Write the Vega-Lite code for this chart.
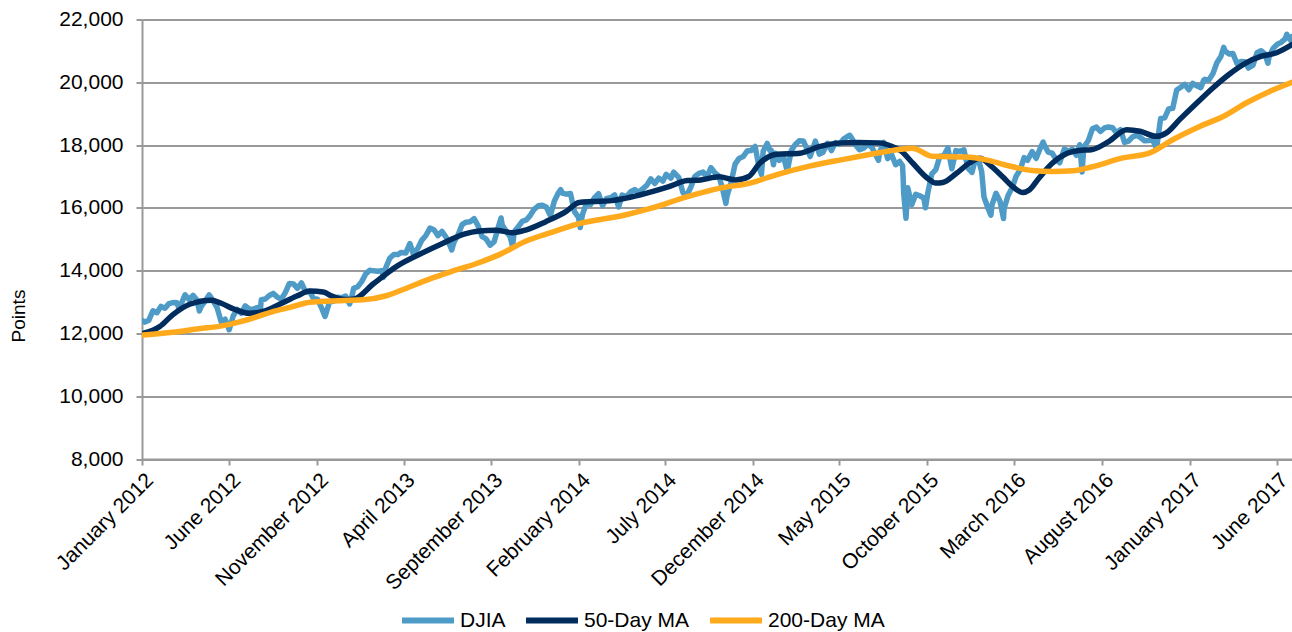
{
  "$schema": "https://vega.github.io/schema/vega-lite/v6.json",
  "width": 1150,
  "height": 439.5,
  "autosize": {"type": "none"},
  "padding": {"left": 142, "top": 19.5, "right": 0, "bottom": 173},
  "background": "white",
  "config": {"font": "Liberation Sans", "view": {"stroke": null}},
  "datasets": {
    "djia": [
      {"date":"2012-01-03","v":12397},{"date":"2012-01-06","v":12360},{"date":"2012-01-13","v":12422},{"date":"2012-01-20","v":12720},{"date":"2012-01-27","v":12660},
      {"date":"2012-02-03","v":12862},{"date":"2012-02-10","v":12801},{"date":"2012-02-17","v":12950},{"date":"2012-02-24","v":12983},{"date":"2012-03-02","v":12977},
      {"date":"2012-03-06","v":12759},{"date":"2012-03-09","v":12922},{"date":"2012-03-16","v":13232},{"date":"2012-03-23","v":13080},{"date":"2012-03-30","v":13212},
      {"date":"2012-04-06","v":13060},{"date":"2012-04-10","v":12716},{"date":"2012-04-13","v":12850},{"date":"2012-04-20","v":13029},{"date":"2012-04-27","v":13228},
      {"date":"2012-05-04","v":13038},{"date":"2012-05-11","v":12820},{"date":"2012-05-18","v":12369},{"date":"2012-05-25","v":12454},{"date":"2012-06-01","v":12119},
      {"date":"2012-06-08","v":12554},{"date":"2012-06-15","v":12767},{"date":"2012-06-22","v":12640},{"date":"2012-06-29","v":12880},{"date":"2012-07-06","v":12772},
      {"date":"2012-07-13","v":12777},{"date":"2012-07-20","v":12822},{"date":"2012-07-25","v":12676},{"date":"2012-07-27","v":13075},{"date":"2012-08-03","v":13096},
      {"date":"2012-08-10","v":13207},{"date":"2012-08-17","v":13275},{"date":"2012-08-24","v":13157},{"date":"2012-08-31","v":13090},{"date":"2012-09-07","v":13306},
      {"date":"2012-09-14","v":13593},{"date":"2012-09-21","v":13579},{"date":"2012-09-28","v":13437},{"date":"2012-10-05","v":13610},{"date":"2012-10-12","v":13328},
      {"date":"2012-10-19","v":13343},{"date":"2012-10-26","v":13107},{"date":"2012-11-02","v":13093},{"date":"2012-11-09","v":12815},{"date":"2012-11-15","v":12543},
      {"date":"2012-11-16","v":12588},{"date":"2012-11-23","v":13010},{"date":"2012-11-30","v":13025},{"date":"2012-12-07","v":13155},{"date":"2012-12-14","v":13135},
      {"date":"2012-12-21","v":13190},{"date":"2012-12-28","v":12938},{"date":"2012-12-31","v":13104},
      {"date":"2013-01-04","v":13435},{"date":"2013-01-11","v":13488},{"date":"2013-01-18","v":13650},{"date":"2013-01-25","v":13896},{"date":"2013-02-01","v":14010},
      {"date":"2013-02-08","v":13993},{"date":"2013-02-15","v":13982},{"date":"2013-02-22","v":14001},{"date":"2013-02-25","v":13784},{"date":"2013-03-01","v":14090},
      {"date":"2013-03-08","v":14397},{"date":"2013-03-15","v":14515},{"date":"2013-03-22","v":14512},{"date":"2013-03-28","v":14579},{"date":"2013-04-05","v":14565},
      {"date":"2013-04-12","v":14865},{"date":"2013-04-18","v":14537},{"date":"2013-04-26","v":14712},{"date":"2013-05-03","v":14974},{"date":"2013-05-10","v":15118},
      {"date":"2013-05-17","v":15354},{"date":"2013-05-24","v":15303},{"date":"2013-05-31","v":15116},{"date":"2013-06-07","v":15248},{"date":"2013-06-14","v":15070},
      {"date":"2013-06-21","v":14800},{"date":"2013-06-24","v":14660},{"date":"2013-06-28","v":14910},{"date":"2013-07-05","v":15135},{"date":"2013-07-12","v":15464},
      {"date":"2013-07-19","v":15544},{"date":"2013-07-26","v":15559},{"date":"2013-08-02","v":15658},{"date":"2013-08-09","v":15425},{"date":"2013-08-16","v":15081},
      {"date":"2013-08-23","v":15010},{"date":"2013-08-30","v":14810},{"date":"2013-09-06","v":14922},{"date":"2013-09-13","v":15376},{"date":"2013-09-18","v":15677},
      {"date":"2013-09-20","v":15452},{"date":"2013-09-27","v":15258},{"date":"2013-10-04","v":15073},{"date":"2013-10-08","v":14776},{"date":"2013-10-11","v":15237},
      {"date":"2013-10-18","v":15400},{"date":"2013-10-25","v":15570},{"date":"2013-11-01","v":15615},{"date":"2013-11-08","v":15762},{"date":"2013-11-15","v":15962},
      {"date":"2013-11-22","v":16065},{"date":"2013-11-29","v":16086},{"date":"2013-12-06","v":16020},{"date":"2013-12-13","v":15755},{"date":"2013-12-20","v":16221},
      {"date":"2013-12-27","v":16479},{"date":"2013-12-31","v":16577},
      {"date":"2014-01-03","v":16469},{"date":"2014-01-10","v":16437},{"date":"2014-01-17","v":16458},{"date":"2014-01-24","v":15880},{"date":"2014-01-31","v":15699},
      {"date":"2014-02-03","v":15373},{"date":"2014-02-07","v":15794},{"date":"2014-02-14","v":16154},{"date":"2014-02-21","v":16104},{"date":"2014-02-28","v":16322},
      {"date":"2014-03-07","v":16453},{"date":"2014-03-14","v":16066},{"date":"2014-03-21","v":16303},{"date":"2014-03-28","v":16323},{"date":"2014-04-04","v":16413},
      {"date":"2014-04-11","v":16027},{"date":"2014-04-17","v":16409},{"date":"2014-04-25","v":16361},{"date":"2014-05-02","v":16513},{"date":"2014-05-09","v":16583},
      {"date":"2014-05-16","v":16492},{"date":"2014-05-23","v":16606},{"date":"2014-05-30","v":16717},{"date":"2014-06-06","v":16924},{"date":"2014-06-13","v":16776},
      {"date":"2014-06-20","v":16947},{"date":"2014-06-27","v":16851},{"date":"2014-07-03","v":17068},{"date":"2014-07-11","v":16944},{"date":"2014-07-16","v":17138},
      {"date":"2014-07-18","v":17100},{"date":"2014-07-25","v":16961},{"date":"2014-08-01","v":16493},{"date":"2014-08-07","v":16368},{"date":"2014-08-15","v":16663},
      {"date":"2014-08-22","v":17001},{"date":"2014-08-29","v":17098},{"date":"2014-09-05","v":17138},{"date":"2014-09-12","v":16988},{"date":"2014-09-19","v":17280},
      {"date":"2014-09-26","v":17113},{"date":"2014-10-03","v":17009},{"date":"2014-10-10","v":16544},{"date":"2014-10-15","v":16142},{"date":"2014-10-17","v":16380},
      {"date":"2014-10-24","v":16805},{"date":"2014-10-31","v":17391},{"date":"2014-11-07","v":17574},{"date":"2014-11-14","v":17634},{"date":"2014-11-21","v":17810},
      {"date":"2014-11-28","v":17828},{"date":"2014-12-05","v":17958},{"date":"2014-12-12","v":17280},{"date":"2014-12-16","v":17068},{"date":"2014-12-19","v":17805},
      {"date":"2014-12-26","v":18053},{"date":"2014-12-31","v":17823},
      {"date":"2015-01-02","v":17833},{"date":"2015-01-06","v":17371},{"date":"2015-01-09","v":17737},{"date":"2015-01-16","v":17511},{"date":"2015-01-23","v":17672},
      {"date":"2015-01-30","v":17165},{"date":"2015-02-06","v":17825},{"date":"2015-02-13","v":18019},{"date":"2015-02-20","v":18140},{"date":"2015-02-27","v":18133},
      {"date":"2015-03-06","v":17856},{"date":"2015-03-11","v":17635},{"date":"2015-03-13","v":17749},{"date":"2015-03-20","v":18128},{"date":"2015-03-27","v":17713},
      {"date":"2015-04-02","v":17763},{"date":"2015-04-10","v":18058},{"date":"2015-04-17","v":17827},{"date":"2015-04-24","v":18080},{"date":"2015-05-01","v":18024},
      {"date":"2015-05-08","v":18191},{"date":"2015-05-15","v":18273},{"date":"2015-05-19","v":18312},{"date":"2015-05-22","v":18232},{"date":"2015-05-29","v":18011},
      {"date":"2015-06-05","v":17849},{"date":"2015-06-12","v":17899},{"date":"2015-06-19","v":18016},{"date":"2015-06-26","v":17947},{"date":"2015-07-02","v":17730},
      {"date":"2015-07-08","v":17515},{"date":"2015-07-10","v":17760},{"date":"2015-07-17","v":18086},{"date":"2015-07-24","v":17569},{"date":"2015-07-31","v":17690},
      {"date":"2015-08-07","v":17373},{"date":"2015-08-14","v":17477},{"date":"2015-08-19","v":17348},{"date":"2015-08-20","v":16990},{"date":"2015-08-21","v":16460},
      {"date":"2015-08-24","v":15871},{"date":"2015-08-25","v":15666},{"date":"2015-08-28","v":16643},{"date":"2015-09-04","v":16102},{"date":"2015-09-11","v":16433},
      {"date":"2015-09-18","v":16385},{"date":"2015-09-25","v":16315},{"date":"2015-09-28","v":16001},{"date":"2015-10-02","v":16472},{"date":"2015-10-09","v":17084},
      {"date":"2015-10-16","v":17216},{"date":"2015-10-23","v":17646},{"date":"2015-10-30","v":17664},{"date":"2015-11-06","v":17910},{"date":"2015-11-13","v":17245},
      {"date":"2015-11-20","v":17824},{"date":"2015-11-27","v":17798},{"date":"2015-12-04","v":17848},{"date":"2015-12-11","v":17265},{"date":"2015-12-18","v":17128},
      {"date":"2015-12-24","v":17553},{"date":"2015-12-31","v":17425},
      {"date":"2016-01-04","v":17149},{"date":"2016-01-08","v":16346},{"date":"2016-01-15","v":15988},{"date":"2016-01-20","v":15766},{"date":"2016-01-22","v":16094},
      {"date":"2016-01-29","v":16466},{"date":"2016-02-05","v":16205},{"date":"2016-02-11","v":15660},{"date":"2016-02-12","v":15974},{"date":"2016-02-19","v":16392},
      {"date":"2016-02-26","v":16640},{"date":"2016-03-04","v":17007},{"date":"2016-03-11","v":17213},{"date":"2016-03-18","v":17602},{"date":"2016-03-24","v":17516},
      {"date":"2016-04-01","v":17793},{"date":"2016-04-08","v":17577},{"date":"2016-04-15","v":17898},{"date":"2016-04-20","v":18096},{"date":"2016-04-22","v":18004},
      {"date":"2016-04-29","v":17774},{"date":"2016-05-06","v":17740},{"date":"2016-05-13","v":17535},{"date":"2016-05-19","v":17436},{"date":"2016-05-20","v":17501},
      {"date":"2016-05-27","v":17873},{"date":"2016-06-03","v":17807},{"date":"2016-06-10","v":17865},{"date":"2016-06-17","v":17675},{"date":"2016-06-23","v":18011},
      {"date":"2016-06-27","v":17140},{"date":"2016-06-30","v":17930},{"date":"2016-07-08","v":18147},{"date":"2016-07-15","v":18516},{"date":"2016-07-22","v":18571},
      {"date":"2016-07-29","v":18432},{"date":"2016-08-05","v":18543},{"date":"2016-08-12","v":18577},{"date":"2016-08-19","v":18553},{"date":"2016-08-26","v":18395},
      {"date":"2016-09-02","v":18492},{"date":"2016-09-09","v":18085},{"date":"2016-09-16","v":18124},{"date":"2016-09-23","v":18261},{"date":"2016-09-30","v":18308},
      {"date":"2016-10-07","v":18240},{"date":"2016-10-14","v":18138},{"date":"2016-10-21","v":18146},{"date":"2016-10-28","v":18161},{"date":"2016-11-04","v":17888},
      {"date":"2016-11-09","v":18590},{"date":"2016-11-11","v":18848},{"date":"2016-11-18","v":18868},{"date":"2016-11-25","v":19152},{"date":"2016-12-02","v":19171},
      {"date":"2016-12-09","v":19757},{"date":"2016-12-16","v":19843},{"date":"2016-12-23","v":19934},{"date":"2016-12-30","v":19763},
      {"date":"2017-01-06","v":19964},{"date":"2017-01-13","v":19886},{"date":"2017-01-20","v":19827},{"date":"2017-01-25","v":20068},{"date":"2017-01-27","v":20093},
      {"date":"2017-02-03","v":20071},{"date":"2017-02-10","v":20269},{"date":"2017-02-17","v":20624},{"date":"2017-02-24","v":20822},{"date":"2017-03-01","v":21115},
      {"date":"2017-03-03","v":21005},{"date":"2017-03-10","v":20903},{"date":"2017-03-17","v":20915},{"date":"2017-03-24","v":20596},{"date":"2017-03-31","v":20663},
      {"date":"2017-04-07","v":20656},{"date":"2017-04-13","v":20453},{"date":"2017-04-21","v":20548},{"date":"2017-04-28","v":20941},{"date":"2017-05-05","v":21007},
      {"date":"2017-05-12","v":20897},{"date":"2017-05-17","v":20607},{"date":"2017-05-19","v":20805},{"date":"2017-05-26","v":21080},{"date":"2017-06-02","v":21206},
      {"date":"2017-06-09","v":21272},{"date":"2017-06-16","v":21384},{"date":"2017-06-19","v":21528},{"date":"2017-06-23","v":21395},{"date":"2017-06-27","v":21311},
      {"date":"2017-06-28","v":21454}
    ],
    "ma50": [
      {"date":"2012-01-03","v":12000},{"date":"2012-02-01","v":12220},{"date":"2012-02-24","v":12600},{"date":"2012-03-24","v":12930},{"date":"2012-05-01","v":13060},
      {"date":"2012-05-18","v":12960},{"date":"2012-06-10","v":12770},{"date":"2012-07-06","v":12640},{"date":"2012-07-30","v":12700},{"date":"2012-08-27","v":12920},
      {"date":"2012-09-27","v":13190},{"date":"2012-10-20","v":13350},{"date":"2012-11-12","v":13320},{"date":"2012-11-27","v":13190},{"date":"2012-12-20","v":13080},
      {"date":"2013-01-05","v":13100},{"date":"2013-02-08","v":13590},{"date":"2013-03-22","v":14160},{"date":"2013-05-01","v":14540},{"date":"2013-06-06","v":14850},
      {"date":"2013-07-17","v":15170},{"date":"2013-08-11","v":15260},{"date":"2013-09-08","v":15290},{"date":"2013-10-08","v":15210},{"date":"2013-11-01","v":15300},
      {"date":"2013-12-05","v":15560},{"date":"2014-01-09","v":15880},{"date":"2014-02-01","v":16170},{"date":"2014-02-24","v":16200},{"date":"2014-03-30","v":16230},
      {"date":"2014-04-24","v":16310},{"date":"2014-05-30","v":16470},{"date":"2014-07-05","v":16660},{"date":"2014-08-09","v":16870},{"date":"2014-09-01","v":16890},
      {"date":"2014-10-03","v":16990},{"date":"2014-11-01","v":16890},{"date":"2014-11-24","v":17000},{"date":"2014-12-13","v":17420},{"date":"2015-01-12","v":17710},
      {"date":"2015-02-21","v":17740},{"date":"2015-03-25","v":17940},{"date":"2015-05-04","v":18070},{"date":"2015-06-03","v":18085},{"date":"2015-07-09","v":18070},
      {"date":"2015-08-01","v":17955},{"date":"2015-08-16","v":17820},{"date":"2015-09-06","v":17420},{"date":"2015-10-01","v":16950},{"date":"2015-10-16","v":16790},
      {"date":"2015-10-28","v":16810},{"date":"2015-11-21","v":17100},{"date":"2015-12-13","v":17420},{"date":"2016-01-01","v":17580},{"date":"2016-01-18","v":17370},
      {"date":"2016-02-09","v":17000},{"date":"2016-02-27","v":16680},{"date":"2016-03-15","v":16490},{"date":"2016-03-27","v":16570},{"date":"2016-04-13","v":16950},
      {"date":"2016-05-06","v":17420},{"date":"2016-06-01","v":17740},{"date":"2016-06-22","v":17830},{"date":"2016-07-13","v":17850},{"date":"2016-08-13","v":18120},
      {"date":"2016-09-13","v":18490},{"date":"2016-10-06","v":18440},{"date":"2016-11-03","v":18280},{"date":"2016-11-21","v":18390},{"date":"2016-12-14","v":18810},
      {"date":"2017-01-13","v":19340},{"date":"2017-02-10","v":19820},{"date":"2017-03-10","v":20250},{"date":"2017-04-09","v":20620},{"date":"2017-05-06","v":20830},
      {"date":"2017-06-01","v":20940},{"date":"2017-06-28","v":21200}
    ],
    "ma200": [
      {"date":"2012-01-03","v":11950},{"date":"2012-02-24","v":12040},{"date":"2012-04-09","v":12150},{"date":"2012-05-19","v":12240},{"date":"2012-06-19","v":12370},
      {"date":"2012-07-19","v":12530},{"date":"2012-08-15","v":12690},{"date":"2012-09-15","v":12830},{"date":"2012-10-20","v":12990},{"date":"2012-11-27","v":13030},
      {"date":"2012-12-20","v":13050},{"date":"2013-01-20","v":13070},{"date":"2013-03-02","v":13200},{"date":"2013-04-06","v":13440},{"date":"2013-05-16","v":13730},
      {"date":"2013-06-24","v":13975},{"date":"2013-08-05","v":14220},{"date":"2013-09-15","v":14510},{"date":"2013-10-30","v":14930},{"date":"2013-12-15","v":15220},
      {"date":"2014-01-24","v":15460},{"date":"2014-04-24","v":15780},{"date":"2014-06-07","v":15990},{"date":"2014-08-09","v":16360},{"date":"2014-10-05","v":16630},
      {"date":"2014-11-26","v":16790},{"date":"2015-01-12","v":17060},{"date":"2015-03-08","v":17320},{"date":"2015-05-04","v":17530},{"date":"2015-06-20","v":17690},
      {"date":"2015-08-16","v":17870},{"date":"2015-09-05","v":17900},{"date":"2015-10-11","v":17640},{"date":"2015-12-08","v":17620},{"date":"2016-01-12","v":17530},
      {"date":"2016-02-20","v":17340},{"date":"2016-04-01","v":17190},{"date":"2016-05-06","v":17160},{"date":"2016-06-11","v":17180},{"date":"2016-07-13","v":17300},
      {"date":"2016-09-06","v":17590},{"date":"2016-10-23","v":17750},{"date":"2016-12-02","v":18170},{"date":"2017-01-19","v":18600},{"date":"2017-03-01","v":18920},
      {"date":"2017-04-09","v":19340},{"date":"2017-05-20","v":19710},{"date":"2017-06-28","v":20000}
    ]
  },
  "encoding": {
    "x": {
      "field": "date",
      "type": "temporal",
      "scale": {"type": "utc", "domain": [{"year": 2012, "month": 1, "date": 1, "utc": true}, {"year": 2017, "month": 6, "date": 28, "utc": true}]},
      "axis": {
        "title": null,
        "grid": false,
        "values": [
          {"year": 2012, "month": 1, "date": 1, "utc": true},
          {"year": 2012, "month": 6, "date": 1, "utc": true},
          {"year": 2012, "month": 11, "date": 1, "utc": true},
          {"year": 2013, "month": 4, "date": 1, "utc": true},
          {"year": 2013, "month": 9, "date": 1, "utc": true},
          {"year": 2014, "month": 2, "date": 1, "utc": true},
          {"year": 2014, "month": 7, "date": 1, "utc": true},
          {"year": 2014, "month": 12, "date": 1, "utc": true},
          {"year": 2015, "month": 5, "date": 1, "utc": true},
          {"year": 2015, "month": 10, "date": 1, "utc": true},
          {"year": 2016, "month": 3, "date": 1, "utc": true},
          {"year": 2016, "month": 8, "date": 1, "utc": true},
          {"year": 2017, "month": 1, "date": 1, "utc": true},
          {"year": 2017, "month": 6, "date": 1, "utc": true}
        ],
        "labelExpr": "utcFormat(datum.value, '%B %Y')",
        "labelAngle": -45,
        "labelAlign": "right",
        "labelBaseline": "top",
        "labelFontSize": 21,
        "labelColor": "#000000",
        "labelPadding": 4,
        "labelOverlap": false,
        "labelFlush": false,
        "domainColor": "#999999",
        "domainWidth": 2,
        "tickColor": "#999999",
        "tickWidth": 2,
        "tickSize": 6
      }
    },
    "y": {
      "field": "v",
      "type": "quantitative",
      "scale": {"domain": [8000, 22000], "nice": false, "zero": false},
      "axis": {
        "title": "Points",
        "titleFontSize": 19,
        "titleFontWeight": "normal",
        "titleColor": "#000000",
        "titleAngle": -90,
        "titleAlign": "center",
        "titleBaseline": "middle",
        "titleX": -124,
        "titleY": 296,
        "values": [8000, 10000, 12000, 14000, 16000, 18000, 20000, 22000],
        "labelExpr": "format(datum.value, ',')",
        "labelFontSize": 21,
        "labelColor": "#000000",
        "labelPadding": 13,
        "grid": true,
        "gridColor": "#999999",
        "gridWidth": 2,
        "domainColor": "#999999",
        "domainWidth": 2,
        "tickColor": "#999999",
        "tickWidth": 2,
        "tickSize": 6
      }
    }
  },
  "layer": [
    {
      "data": {"name": "djia"},
      "mark": {"type": "line", "strokeWidth": 5.5, "strokeJoin": "round", "strokeCap": "round", "clip": true},
      "encoding": {
        "color": {
          "datum": "DJIA",
          "type": "nominal",
          "scale": {"domain": ["DJIA", "50-Day MA", "200-Day MA"], "range": ["#4f9bc7", "#002d5e", "#ffaa1d"]},
          "legend": {
            "title": null,
            "orient": "none",
            "direction": "horizontal",
            "legendX": 257,
            "legendY": 572,
            "padding": 0,
            "symbolType": "stroke",
            "symbolSize": 2700,
            "symbolStrokeWidth": 6,
            "labelFontSize": 21,
            "labelColor": "#000000",
            "labelOffset": 3,
            "columnPadding": 8
          }
        }
      }
    },
    {
      "data": {"name": "ma50"},
      "mark": {"type": "line", "strokeWidth": 5.5, "interpolate": "monotone", "strokeCap": "round", "clip": true},
      "encoding": {"color": {"datum": "50-Day MA", "type": "nominal"}}
    },
    {
      "data": {"name": "ma200"},
      "mark": {"type": "line", "strokeWidth": 5.5, "interpolate": "monotone", "strokeCap": "round", "clip": true},
      "encoding": {"color": {"datum": "200-Day MA", "type": "nominal"}}
    }
  ]
}
